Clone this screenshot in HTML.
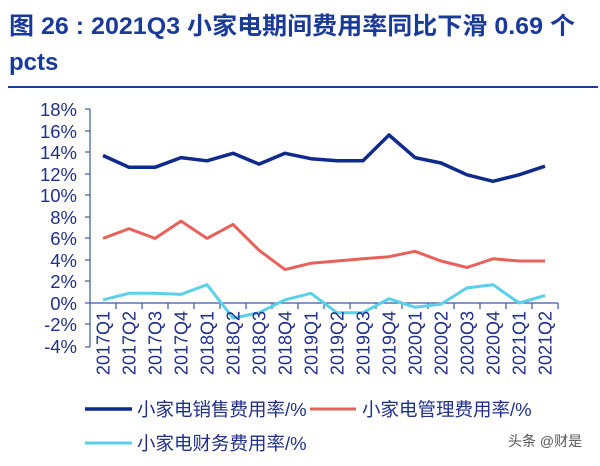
<!DOCTYPE html>
<html><head><meta charset="utf-8"><style>
body{margin:0;background:#fff;width:600px;height:461px;overflow:hidden;font-family:"Liberation Sans","Noto Sans CJK SC",sans-serif}
</style></head><body>
<svg width="600" height="461" xmlns="http://www.w3.org/2000/svg" font-family="Liberation Sans, Noto Sans CJK SC, sans-serif">
<text x="9" y="34" font-size="24" font-weight="bold" fill="#1a3a9a" textLength="566" lengthAdjust="spacingAndGlyphs">图 26 : 2021Q3 小家电期间费用率同比下滑 0.69 个</text>
<text x="9" y="70" font-size="24" font-weight="bold" fill="#1a3a9a">pcts</text>
<line x1="8" y1="87" x2="598" y2="87" stroke="#1a3a9a" stroke-width="2"/>
<g font-size="18.5" fill="#1f2f8a" text-anchor="end">
<text x="77" y="116">18%</text><text x="77" y="138">16%</text><text x="77" y="159">14%</text><text x="77" y="181">12%</text><text x="77" y="202">10%</text><text x="77" y="224">8%</text><text x="77" y="245">6%</text><text x="77" y="267">4%</text><text x="77" y="288">2%</text><text x="77" y="310">0%</text><text x="77" y="331">-2%</text><text x="77" y="353">-4%</text>
</g>
<g stroke="#3a5aa8" stroke-width="1.2">
<line x1="90" y1="109" x2="90" y2="347"/>
<line x1="85" y1="109" x2="90" y2="109"/><line x1="85" y1="131" x2="90" y2="131"/><line x1="85" y1="152" x2="90" y2="152"/><line x1="85" y1="174" x2="90" y2="174"/><line x1="85" y1="195" x2="90" y2="195"/><line x1="85" y1="217" x2="90" y2="217"/><line x1="85" y1="238" x2="90" y2="238"/><line x1="85" y1="260" x2="90" y2="260"/><line x1="85" y1="281" x2="90" y2="281"/><line x1="85" y1="303" x2="90" y2="303"/><line x1="85" y1="324" x2="90" y2="324"/><line x1="85" y1="347" x2="90" y2="347"/>
<line x1="90" y1="303" x2="558" y2="303"/>
<path d="M116 303v6M142 303v6M168 303v6M194 303v6M220 303v6M246 303v6M272 303v6M298 303v6M324 303v6M350 303v6M376 303v6M402 303v6M428 303v6M454 303v6M480 303v6M506 303v6M532 303v6M558 303v6"/>
</g>
<polyline fill="none" stroke="#0e2a8c" stroke-width="3.5" stroke-linejoin="round" points="103,155.5 129,167.3 155,167.3 181,157.6 207,160.8 233,153.3 259,164.1 285,153.3 311,158.7 337,160.8 363,160.8 389,135 415,157.6 441,163 467,174.8 493,181.3 519,174.8 545,166.2"/>
<polyline fill="none" stroke="#e8605a" stroke-width="3" stroke-linejoin="round" points="103,238.4 129,228.7 155,238.4 181,221.1 207,238.4 233,224.4 259,250.2 285,269.6 311,263.2 337,261 363,258.8 389,256.7 415,251.3 441,261 467,267.5 493,258.8 519,261 545,261"/>
<polyline fill="none" stroke="#5ad0ea" stroke-width="3" stroke-linejoin="round" points="103,299.8 129,293.3 155,293.3 181,294.4 207,284.7 233,318.1 259,312.7 285,299.8 311,293.3 337,312.7 363,312.7 389,298.7 415,307.3 441,304.1 467,287.9 493,284.7 519,303 545,295.5"/>
<g font-size="18" fill="#1f2f8a" text-anchor="end">
<text transform="translate(109.5,311) rotate(-90)">2017Q1</text>
<text transform="translate(135.5,311) rotate(-90)">2017Q2</text>
<text transform="translate(161.5,311) rotate(-90)">2017Q3</text>
<text transform="translate(187.5,311) rotate(-90)">2017Q4</text>
<text transform="translate(213.5,311) rotate(-90)">2018Q1</text>
<text transform="translate(239.5,311) rotate(-90)">2018Q2</text>
<text transform="translate(265.5,311) rotate(-90)">2018Q3</text>
<text transform="translate(291.5,311) rotate(-90)">2018Q4</text>
<text transform="translate(317.5,311) rotate(-90)">2019Q1</text>
<text transform="translate(343.5,311) rotate(-90)">2019Q2</text>
<text transform="translate(369.5,311) rotate(-90)">2019Q3</text>
<text transform="translate(395.5,311) rotate(-90)">2019Q4</text>
<text transform="translate(421.5,311) rotate(-90)">2020Q1</text>
<text transform="translate(447.5,311) rotate(-90)">2020Q2</text>
<text transform="translate(473.5,311) rotate(-90)">2020Q3</text>
<text transform="translate(499.5,311) rotate(-90)">2020Q4</text>
<text transform="translate(525.5,311) rotate(-90)">2021Q1</text>
<text transform="translate(551.5,311) rotate(-90)">2021Q2</text>
</g>
<line x1="85" y1="409" x2="132" y2="409" stroke="#0e2a8c" stroke-width="3.5"/>
<line x1="310" y1="409" x2="356" y2="409" stroke="#e8605a" stroke-width="3"/>
<line x1="85" y1="443" x2="132" y2="443" stroke="#5ad0ea" stroke-width="3"/>
<g font-size="18.5" fill="#1f2f8a">
<text x="137" y="416">小家电销售费用率/%</text>
<text x="362" y="416">小家电管理费用率/%</text>
<text x="137" y="450">小家电财务费用率/%</text>
</g>
<text x="508" y="446" font-size="14" fill="#555">头条 @财是</text>
</svg>
</body></html>
